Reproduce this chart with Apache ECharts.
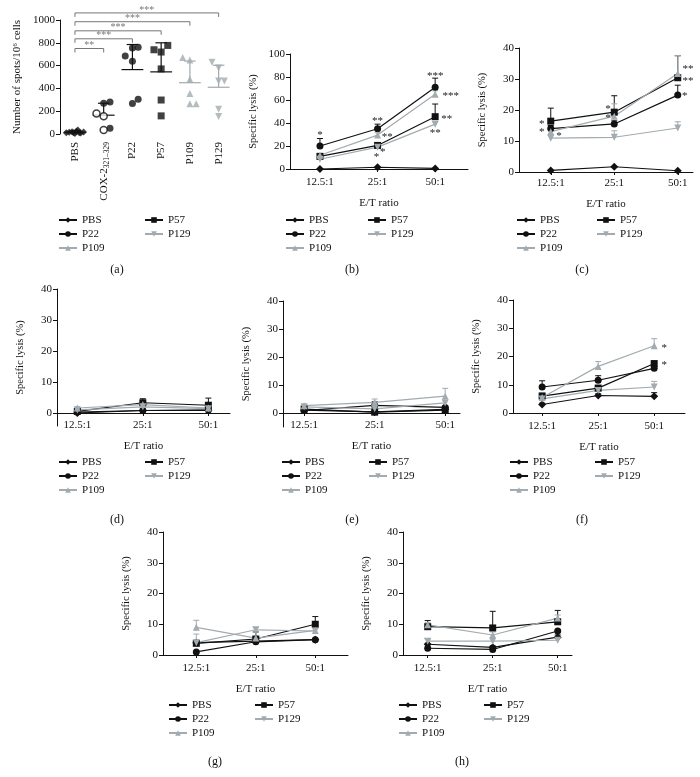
<!DOCTYPE html>
<html>
<head>
<meta charset="utf-8">
<script src="https://cdn.jsdelivr.net/npm/echarts@6/dist/echarts.min.js"></script>
<style>
  html, body { margin: 0; padding: 0; background: #fff; }
  #chart { width: 700px; height: 777px; }
</style>
</head>
<body>
<div id="chart"></div>
<script>
// groups shown in the lysis panels (b)-(h), same order everywhere
var groups = ['PBS', 'P22', 'P57', 'P109', 'P129'];
var ratios = ['12.5:1', '25:1', '50:1'];
var ticks1000 = [0, 200, 400, 600, 800, 1000];
var ticks100 = [0, 20, 40, 60, 80, 100];
var ticks40 = [0, 10, 20, 30, 40];

// (a) ELISpot spots per 10^6 cells
var spotCats = ['PBS', 'COX-2', 'P22', 'P57', 'P109', 'P129'];
var spotsPBS = [10, 15, 20, 5, 25, 35, 12, 8, 18, 10];
var jitPBS = [-0.3, -0.2, -0.1, 0, 0.05, 0.1, 0.15, 0.2, 0.3, -0.05];
var spotsCOXfill = [270, 280, 50];
var jitCOXfill = [0, 0.22, 0.22];
var spotsCOXopen = [180, 155, 35];
var jitCOXopen = [-0.25, 0, 0];
var spotsP22 = [685, 638, 754, 760, 267, 304];
var jitP22 = [-0.25, 0, 0, 0.2, 0, 0.2];
var spotsP57 = [739, 719, 777, 571, 298, 159];
var jitP57 = [-0.25, 0, 0.23, 0, 0, 0];
var spotsP109 = [670, 650, 480, 355, 265, 265];
var jitP109 = [-0.25, 0, 0, 0, 0, 0.22];
var spotsP129 = [630, 580, 464, 464, 217, 154];
var jitP129 = [-0.23, 0, 0, 0.2, 0, 0];
var spotMean = [15, 165, 565, 545, 450, 410];
var spotUpper = [28, 270, 785, 800, 640, 603];
// [from, to, height, text]
var spotSig = [[0, 1, 750, '**'], [0, 2, 835, '***'], [0, 3, 905, '***'], [0, 4, 985, '***'], [0, 5, 1062, '***']];

// (b)-(h) specific lysis (%), rows follow groups
var lysisB = [[0, 1.5, 0.5], [20, 35, 71], [11, 20.5, 45.5], [12, 29.5, 65], [8.5, 19, 39]];
var upperB = [null, [26.5, 39, 79], [13, 21.5, 56.5], [13.5, 31.5, 68], [9.5, 20, 41]];
var starsB = [[0, 31, '*'], [1, 43, '**'], [1.17, 29.5, '**'], [0.98, 12.5, '*'], [1.09, 16.5, '*'],
              [2, 82.5, '***'], [2.27, 65, '***'], [2.2, 45, '**'], [2, 33, '**']];

var lysisC = [[0.5, 1.7, 0.4], [14, 15.5, 24.8], [16.4, 19.3, 30.4], [13, 18, 31.8], [10.9, 11.2, 14.2]];
var upperC = [null, [15, 16.5, 28], [20.6, 24.6, 37.5], [14.5, 22, 37.6], [12, 13.3, 16.2]];
var starsC = [[-0.14, 16.2, '*'], [-0.14, 13.5, '*'], [0.13, 12.2, '*'], [0.9, 20.8, '*'], [0.9, 18, '*'],
              [2.16, 33.9, '**'], [2.16, 30.1, '**'], [2.11, 25, '*']];

var lysisD = [[0, 0.8, 0.8], [0.3, 0.8, 1.0], [0.5, 3.3, 2.5], [1.6, 2.7, 1.6], [1.0, 2.0, 1.4]];
var upperD = [null, null, [1, 4.6, 4.8], [2, 3.5, 2.5], null];

var lysisE = [[1, 0.4, 1.3], [0.9, 2.7, 2.0], [1.4, 0.3, 1.0], [2.6, 3.8, 6.0], [2.2, 1.5, 3.6]];
var upperE = [null, [1.2, 4, 2.5], null, [3, 5, 8.8], null];

var lysisF = [[3, 6.2, 5.9], [9.2, 11.6, 15.8], [6, 8.8, 17.5], [5.5, 16.5, 23.8], [5, 8, 9.2]];
var upperF = [[3.5, 6.8, 7.2], [11.4, 13.2, 16.5], [7, 9.8, 18], [6.5, 18.2, 26.3], [6, 8.5, 11.2]];
var starsF = [[2.18, 23.8, '*'], [2.18, 17.6, '*']];

var lysisG = [[4, 4.5, 5], [1, 4.3, 5], [3.8, 5.2, 10], [9, 5.5, 8], [4, 8.2, 7.8]];
var upperG = [null, null, [4.5, 7.5, 12.5], [11.3, 7.5, 10], [6.8, 9, 9]];

var lysisH = [[3.5, 2.5, 5.8], [2.2, 1.8, 7.8], [9.2, 8.8, 10.8], [9.8, 6.5, 12], [4.5, 4.5, 4.8]];
var upperH = [[5.3, 3, 6.5], null, [11.2, 14.2, 14.5], [10.5, 7.5, 13], null];

// ---- styling / layout ----
var BLACK = '#111111', GRAY = '#a2abb0';
var FONT = '"Liberation Serif", "DejaVu Serif", serif';
var groupColor = [BLACK, BLACK, BLACK, GRAY, GRAY];
var groupSymbol = ['diamond', 'circle', 'rect', 'triangle', 'triangle'];
var groupRotate = [0, 0, 0, 0, 180];
var groupSize = [8, 7, 7, 7, 7];

// shift: how far the x labels move up when the y axis runs below zero
var panels = [
  {lysis: lysisB, upper: upperB, stars: starsB, left: 290, top: 54, width: 178, height: 115, xmin: -0.52, xmax: 2.57, ymin: 0, ymax: 100, ticks: ticks100, shift: 0, tag: '(b)', tagPos: [352, 270], leg: [285, 367, 214]},
  {lysis: lysisC, upper: upperC, stars: starsC, left: 519, top: 48, width: 174, height: 124, xmin: -0.5, xmax: 2.24, ymin: 0, ymax: 40, ticks: ticks40, shift: 2, tag: '(c)', tagPos: [582, 270], leg: [516, 596, 214]},
  {lysis: lysisD, upper: upperD, stars: [], left: 57, top: 289, width: 173, height: 137, xmin: -0.31, xmax: 2.33, ymin: -4.2, ymax: 40, ticks: ticks40, shift: 14, tag: '(d)', tagPos: [117, 520], leg: [58, 144, 456]},
  {lysis: lysisE, upper: upperE, stars: [], left: 283, top: 301, width: 177, height: 126, xmin: -0.3, xmax: 2.21, ymin: -5, ymax: 40, ticks: ticks40, shift: 15, tag: '(e)', tagPos: [352, 520], leg: [281, 368, 456]},
  {lysis: lysisF, upper: upperF, stars: starsF, left: 513, top: 300, width: 172, height: 113, xmin: -0.52, xmax: 2.55, ymin: 0, ymax: 40, ticks: ticks40, shift: 0, tag: '(f)', tagPos: [582, 520], leg: [509, 594, 456]},
  {lysis: lysisG, upper: upperG, stars: [], left: 163, top: 532, width: 185, height: 123, xmin: -0.56, xmax: 2.55, ymin: 0, ymax: 40, ticks: ticks40, shift: 0, tag: '(g)', tagPos: [215, 762], leg: [168, 254, 699]},
  {lysis: lysisH, upper: upperH, stars: [], left: 403, top: 532, width: 169, height: 123, xmin: -0.38, xmax: 2.22, ymin: 0, ymax: 40, ticks: ticks40, shift: 0, tag: '(h)', tagPos: [462, 762], leg: [398, 483, 699]}
];
var legendA = [58, 144, 214];

var labelStyle = {color: BLACK, fontFamily: FONT, fontSize: 11};
function plain(v) { return String(v); }

function yAxisOf(idx, p) {
  return {
    type: 'value', gridIndex: idx, min: p.ymin, max: p.ymax,
    name: 'Specific lysis (%)', nameLocation: 'middle', nameGap: 31,
    nameTextStyle: {color: BLACK, fontFamily: FONT, fontSize: 10.5},
    axisLine: {show: true, onZero: false, lineStyle: {color: BLACK, width: 1}},
    axisTick: {show: true, length: 4, lineStyle: {color: BLACK}, customValues: p.ticks},
    axisLabel: Object.assign({margin: 5, customValues: p.ticks, formatter: plain}, labelStyle),
    splitLine: {show: false}
  };
}
function xAxisOf(idx, p) {
  return {
    type: 'value', gridIndex: idx, min: p.xmin, max: p.xmax,
    name: 'E/T ratio', nameLocation: 'middle', nameGap: 29 - p.shift,
    nameTextStyle: {color: BLACK, fontFamily: FONT, fontSize: 11},
    axisLine: {show: true, onZero: true, lineStyle: {color: BLACK, width: 1}},
    axisTick: {show: true, length: 3, lineStyle: {color: BLACK}, customValues: [0, 1, 2]},
    axisLabel: Object.assign({margin: 8 - p.shift, customValues: [0, 1, 2], formatter: function (v) { return ratios[Math.round(v)]; }}, labelStyle),
    splitLine: {show: false}
  };
}

function errorSeries(axis, rows, color) {
  return {
    type: 'custom', xAxisIndex: axis, yAxisIndex: axis, z: 1, silent: true, clip: false,
    data: rows,
    renderItem: function (params, api) {
      var a = api.coord([api.value(0), api.value(1)]);
      var b = api.coord([api.value(0), api.value(2)]);
      var st = {stroke: color, lineWidth: 1};
      return {type: 'group', children: [
        {type: 'line', shape: {x1: a[0], y1: a[1], x2: b[0], y2: b[1]}, style: st},
        {type: 'line', shape: {x1: b[0] - 3, y1: b[1], x2: b[0] + 3, y2: b[1]}, style: st}
      ]};
    }
  };
}
function starSeries(axis, stars) {
  return {
    type: 'custom', xAxisIndex: axis, yAxisIndex: axis, z: 5, silent: true, clip: false,
    data: stars.map(function (s) { return [s[0], s[1]]; }),
    renderItem: function (params, api) {
      var c = api.coord([api.value(0), api.value(1)]);
      return {type: 'text', x: c[0], y: c[1] + 2, style: {
        text: stars[params.dataIndex][2], fill: '#222', fontFamily: FONT, fontSize: 11,
        align: 'center', verticalAlign: 'middle'}};
    }
  };
}

var grids = [{left: 60, top: 20, width: 173, height: 114}];
var xAxes = [{
  type: 'value', gridIndex: 0, min: -0.52, max: 5.5,
  axisLine: {show: false}, axisTick: {show: false}, splitLine: {show: false},
  axisLabel: {
    customValues: [0, 1, 2, 3, 4, 5], rotate: 90, margin: 8,
    formatter: function (v) {
      var i = Math.round(v);
      return i === 1 ? '{n|COX-2}{s|321–329}' : '{n|' + spotCats[i] + '}';
    },
    rich: {
      n: {color: BLACK, fontFamily: FONT, fontSize: 11, lineHeight: 14},
      s: {color: BLACK, fontFamily: FONT, fontSize: 7.5, lineHeight: 14, verticalAlign: 'bottom'}
    }
  }
}];
var yAxes = [{
  type: 'value', gridIndex: 0, min: 0, max: 1000,
  name: 'Number of spots/10⁶ cells', nameLocation: 'middle', nameGap: 37,
  nameTextStyle: {color: BLACK, fontFamily: FONT, fontSize: 11},
  axisLine: {show: true, onZero: false, lineStyle: {color: BLACK, width: 1}},
  axisTick: {show: true, length: 4, lineStyle: {color: BLACK}, customValues: ticks1000},
  axisLabel: Object.assign({margin: 5, customValues: ticks1000, formatter: plain}, labelStyle),
  splitLine: {show: false}
}];
var lineSeries = [], extraSeries = [], legends = [], graphics = [];

function addLegends(pos) {
  var common = {orient: 'vertical', top: pos[2], itemWidth: 18, itemHeight: 7, itemGap: 2, padding: 0,
    selectedMode: false, textStyle: {color: BLACK, fontFamily: FONT, fontSize: 11, lineHeight: 12}};
  legends.push(Object.assign({left: pos[0], data: ['PBS', 'P22', 'P109']}, common));
  legends.push(Object.assign({left: pos[1], data: ['P57', 'P129']}, common));
}
addLegends(legendA);
graphics.push({type: 'text', x: 117, y: 270, style: {text: '(a)', fill: BLACK, fontFamily: FONT, fontSize: 12, align: 'center', verticalAlign: 'middle'}});

panels.forEach(function (p, k) {
  var ax = k + 1;
  grids.push({left: p.left, top: p.top, width: p.width, height: p.height});
  xAxes.push(xAxisOf(ax, p));
  yAxes.push(yAxisOf(ax, p));
  groups.forEach(function (g, gi) {
    lineSeries.push({
      name: g, type: 'line', xAxisIndex: ax, yAxisIndex: ax, z: 3,
      data: p.lysis[gi].map(function (v, i) { return [i, v]; }),
      symbol: groupSymbol[gi], symbolSize: groupSize[gi], symbolRotate: groupRotate[gi],
      itemStyle: {color: groupColor[gi]}, lineStyle: {color: groupColor[gi], width: 1.2}
    });
    if (p.upper[gi]) {
      extraSeries.push(errorSeries(ax, p.lysis[gi].map(function (v, i) { return [i, v, p.upper[gi][i]]; }), groupColor[gi]));
    }
  });
  if (p.stars.length) extraSeries.push(starSeries(ax, p.stars));
  addLegends(p.leg);
  graphics.push({type: 'text', x: p.tagPos[0], y: p.tagPos[1], style: {text: p.tag, fill: BLACK, fontFamily: FONT, fontSize: 12, align: 'center', verticalAlign: 'middle'}});
});

// (a) scatter points
function spotSeries(cat, vals, jit, symbol, rotate, color, fill) {
  return {
    name: 'spots-' + spotCats[cat], type: 'scatter', xAxisIndex: 0, yAxisIndex: 0, z: 3,
    data: vals.map(function (v, i) { return [cat + jit[i], v]; }),
    symbol: symbol, symbolSize: 7, symbolRotate: rotate,
    itemStyle: {color: fill || color, borderColor: color, borderWidth: fill ? 1.5 : 0}
  };
}
extraSeries.push(spotSeries(0, spotsPBS, jitPBS, 'diamond', 0, BLACK));
extraSeries.push(spotSeries(1, spotsCOXfill, jitCOXfill, 'circle', 0, BLACK));
extraSeries.push(spotSeries(1, spotsCOXopen, jitCOXopen, 'circle', 0, BLACK, '#ffffff'));
extraSeries.push(spotSeries(2, spotsP22, jitP22, 'circle', 0, BLACK));
extraSeries.push(spotSeries(3, spotsP57, jitP57, 'rect', 0, BLACK));
extraSeries.push(spotSeries(4, spotsP109, jitP109, 'triangle', 0, GRAY));
extraSeries.push(spotSeries(5, spotsP129, jitP129, 'triangle', 180, GRAY));

// (a) mean + SD bars
var meanColor = [BLACK, BLACK, BLACK, BLACK, GRAY, GRAY];
extraSeries.push({
  type: 'custom', xAxisIndex: 0, yAxisIndex: 0, z: 2, silent: true, clip: false,
  data: spotMean.map(function (m, i) { return [i, m, spotUpper[i]]; }),
  renderItem: function (params, api) {
    var x = api.value(0);
    var l = api.coord([x - 0.38, api.value(1)]), r = api.coord([x + 0.38, api.value(1)]);
    var m = api.coord([x, api.value(1)]), u = api.coord([x, api.value(2)]);
    var cl = api.coord([x - 0.2, api.value(2)]), cr = api.coord([x + 0.2, api.value(2)]);
    var st = {stroke: meanColor[params.dataIndex], lineWidth: 1.2};
    return {type: 'group', children: [
      {type: 'line', shape: {x1: l[0], y1: l[1], x2: r[0], y2: r[1]}, style: st},
      {type: 'line', shape: {x1: m[0], y1: m[1], x2: u[0], y2: u[1]}, style: st},
      {type: 'line', shape: {x1: cl[0], y1: cl[1], x2: cr[0], y2: cr[1]}, style: st}
    ]};
  }
});

// (a) significance brackets
extraSeries.push({
  type: 'custom', xAxisIndex: 0, yAxisIndex: 0, z: 4, silent: true, clip: false,
  data: spotSig.map(function (s) { return [s[0], s[2]]; }),
  renderItem: function (params, api) {
    var s = spotSig[params.dataIndex];
    var a = api.coord([s[0], s[2]]), b = api.coord([s[1], s[2]]);
    var st = {stroke: '#777', lineWidth: 1};
    return {type: 'group', children: [
      {type: 'line', shape: {x1: a[0], y1: a[1], x2: b[0], y2: b[1]}, style: st},
      {type: 'line', shape: {x1: a[0], y1: a[1], x2: a[0], y2: a[1] + 4}, style: st},
      {type: 'line', shape: {x1: b[0], y1: b[1], x2: b[0], y2: b[1] + 4}, style: st},
      {type: 'text', x: (a[0] + b[0]) / 2, y: a[1] + 2, style: {text: s[3], fill: '#777', fontFamily: FONT, fontSize: 10, align: 'center', verticalAlign: 'bottom'}}
    ]};
  }
});

var chart = echarts.init(document.getElementById('chart'));
chart.setOption({
  animation: false,
  backgroundColor: '#ffffff',
  grid: grids,
  xAxis: xAxes,
  yAxis: yAxes,
  legend: legends,
  graphic: graphics,
  series: lineSeries.concat(extraSeries)
});
</script>
</body>
</html>
